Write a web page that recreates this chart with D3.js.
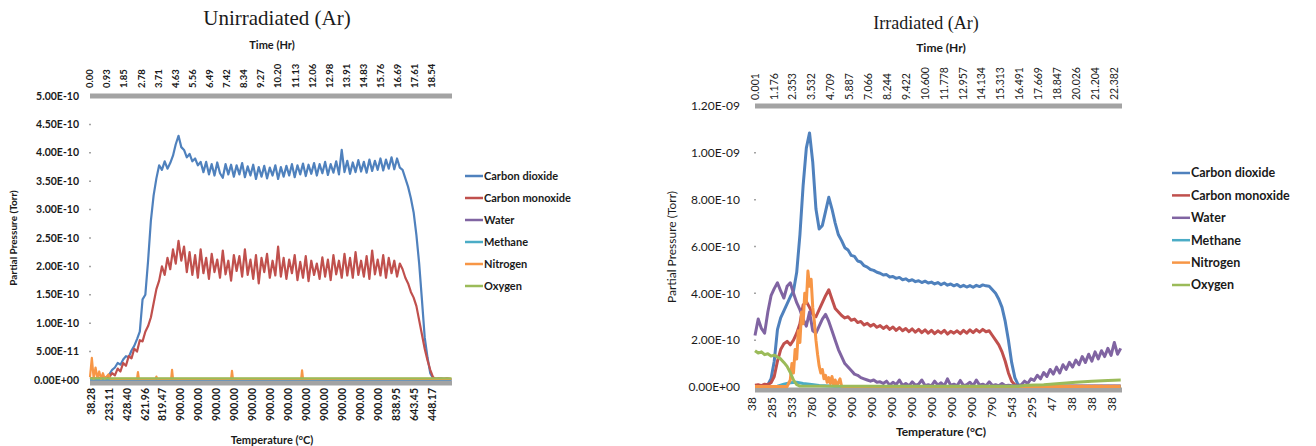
<!DOCTYPE html>
<html>
<head>
<meta charset="utf-8">
<script src="https://cdn.jsdelivr.net/npm/d3@7"></script>
<style>
  body { margin: 0; background: #fff; }
  svg text { font-family: Lato, "Open Sans", sans-serif; fill: #1a1a1a; }
</style>
</head>
<body>
<svg id="chart" width="1316" height="446"></svg>
<script>
// Series (same order in both panels)
const seriesNames = ['Carbon dioxide', 'Carbon monoxide', 'Water', 'Methane', 'Nitrogen', 'Oxygen'];
const seriesColors = ['#4f81bd', '#c0504d', '#8064a2', '#4bacc6', '#f79646', '#9bbb59'];

// ---- Left panel: Unirradiated (Ar), values in 1e-10 Torr ----
const leftStep = 0.15; // hours between readings
const leftTopLabels = ['0.00', '0.93', '1.85', '2.78', '3.71', '4.63', '5.56', '6.49', '7.42', '8.34', '9.27',
  '10.20', '11.13', '12.06', '12.98', '13.91', '14.83', '15.76', '16.69', '17.61', '18.54'];
const leftBottomLabels = ['38.28', '233.11', '428.40', '621.96', '819.47', '900.00', '900.00', '900.00', '900.00',
  '900.00', '900.00', '900.00', '900.00', '900.00', '900.00', '900.00', '900.00', '838.95', '643.45', '448.17'];
const leftYTicks = [0, 0.5, 1, 1.5, 2, 2.5, 3, 3.5, 4, 4.5, 5];

const leftCO2 = [0.02, 0.03, 0.02, 0.04, 0.03, 0.04,
  0.05, 0.1, 0.18, 0.22, 0.3, 0.27, 0.36, 0.42, 0.4, 0.52, 0.6, 0.72, 0.85, 1.42, 1.5, 2.1, 2.8, 3.25, 3.55,
  3.78, 3.7, 3.85, 3.72, 3.82, 3.95, 4.15, 4.3, 4.1, 4.05, 3.92, 3.98, 3.85, 3.9, 3.78, 3.84,
  3.66, 3.84, 3.62, 3.8, 3.6, 3.83, 3.64, 3.56, 3.8, 3.62,
  3.79, 3.58, 3.78, 3.62, 3.82, 3.57, 3.76, 3.6, 3.79, 3.54,
  3.75, 3.58, 3.77, 3.55, 3.74, 3.6, 3.78, 3.54, 3.75, 3.58,
  3.77, 3.6, 3.8, 3.57, 3.78, 3.62, 3.81, 3.59, 3.79, 3.63,
  3.82, 3.6, 3.8, 3.64, 3.84, 3.61, 3.8, 3.65, 3.85, 3.62,
  4.05, 3.66, 3.86, 3.63, 3.83, 3.66, 3.87, 3.67, 3.84, 3.65,
  3.88, 3.68, 3.86, 3.7, 3.9, 3.69, 3.88, 3.72, 3.92, 3.71, 3.9, 3.74,
  3.7, 3.55, 3.4, 3.2, 2.95, 2.55, 2.05, 1.41, 0.75, 0.4, 0.12, 0.03,
  0.02, 0.02, 0.03, 0.02, 0.02, 0.02];
const leftCO = [0.02, 0.03, 0.02, 0.04, 0.02, 0.03, 0.04,
  0.05, 0.12, 0.08, 0.2, 0.15, 0.3, 0.25, 0.42, 0.38, 0.55, 0.5, 0.7, 0.68, 0.85, 0.95, 1.1, 1.35, 1.6,
  1.75, 2.0, 1.85, 2.15, 1.95, 2.3, 2.05, 2.45, 2.1, 2.35, 1.9,
  2.25, 1.85, 2.2, 1.8, 2.3, 1.88, 2.15, 1.78, 2.22, 1.9,
  2.12, 1.8, 2.28, 1.86, 2.1, 1.75, 2.2, 1.92, 2.18, 1.82,
  2.3, 1.85, 2.12, 1.78, 2.2, 1.7, 2.15, 1.9, 2.22, 1.8,
  2.1, 1.84, 2.35, 1.82, 2.15, 1.78, 2.12, 1.88, 2.2, 1.76,
  2.08, 1.8, 2.18, 1.74, 2.1, 1.85, 2.05, 1.78, 2.16, 1.82,
  2.12, 1.76, 2.2, 1.86, 2.1, 1.8, 2.22, 1.84, 2.15, 1.8,
  2.25, 1.85, 2.1, 1.82, 2.18, 1.78, 2.28, 1.86, 2.12, 1.84,
  2.2, 1.8, 2.15, 1.88, 2.1, 1.82, 2.05,
  1.95, 1.8, 1.7, 1.55, 1.45, 1.3, 1.05, 0.8, 0.55, 0.35, 0.18, 0.05,
  0.02, 0.03, 0.02, 0.02, 0.03, 0.02];
// sparse readings as [hour, value]
const leftH2O = [[0, 0.005], [19.6, 0.005]];
const leftCH4 = [[0, 0.01], [19.6, 0.01]];
const leftN2 = [[0, 0.05], [0.1, 0.39], [0.2, 0.02], [0.3, 0.22], [0.4, 0.04], [0.5, 0.15], [0.6, 0.02], [0.7, 0.12],
  [0.8, 0.02], [1.0, 0.1], [1.1, 0.02], [2.55, 0.02], [2.6, 0.14], [2.65, 0.02], [3.55, 0.02], [3.6, 0.06], [3.65, 0.02],
  [4.4, 0.02], [4.45, 0.18], [4.5, 0.02], [7.65, 0.02], [7.7, 0.16], [7.75, 0.02], [11.45, 0.02], [11.5, 0.17],
  [11.55, 0.02], [19.6, 0.02]];
const leftO2 = [[0, 0.03], [19.6, 0.03]];

// ---- Right panel: Irradiated (Ar), values in 1e-10 Torr ----
const rightStep = 0.2;
const rightTopLabels = ['0.001', '1.176', '2.353', '3.532', '4.709', '5.887', '7.066', '8.244', '9.422', '10.600',
  '11.778', '12.957', '14.134', '15.313', '16.491', '17.669', '18.847', '20.026', '21.204', '22.382'];
const rightBottomLabels = ['38', '285', '533', '780', '900', '900', '900', '900', '900', '900', '900', '900',
  '790', '543', '295', '47', '38', '38', '38'];
const rightYTicks = [0, 2, 4, 6, 8, 10, 12];

const rightCO2 = [0.05, 0.06, 0.05, 0.08, 0.1,
  0.35, 1.1, 2.45, 2.95, 3.25, 3.55, 3.85, 4.1,
  4.9, 6.5, 8.6, 10.2, 10.85, 9.6, 7.6, 6.75, 6.9, 7.5, 8.1, 7.6, 7.0,
  6.5, 6.25, 5.95, 5.85, 5.62, 5.58, 5.38, 5.34, 5.18, 5.12, 5.02, 4.98, 4.9, 4.86, 4.78, 4.8, 4.7, 4.72, 4.64, 4.68,
  4.58, 4.62, 4.53, 4.58, 4.5, 4.54, 4.46, 4.52, 4.44, 4.48, 4.4, 4.46, 4.37, 4.44, 4.35, 4.4, 4.32, 4.38, 4.28, 4.34,
  4.27, 4.33, 4.26, 4.34, 4.29, 4.36, 4.32, 4.3,
  4.15, 4.0, 3.75, 3.4, 2.8, 2.0, 1.05, 0.4, 0.1,
  0.04, 0.03, 0.04, 0.03, 0.04, 0.03, 0.04, 0.03, 0.04, 0.03, 0.04, 0.03, 0.04, 0.03, 0.04, 0.03,
  0.04, 0.03, 0.04, 0.03, 0.04, 0.03, 0.04, 0.03, 0.04, 0.03, 0.04, 0.03, 0.04, 0.03, 0.04, 0.03];
const rightCO = [0.08, 0.1, 0.06, 0.12, 0.1, 0.18,
  0.45, 1.1, 1.6, 1.85, 1.95, 1.8, 2.0, 2.3, 2.7, 3.5, 3.65, 3.4, 3.1, 3.0, 3.3, 3.6, 3.9, 4.15,
  3.75, 3.35, 3.2, 3.05, 2.95, 3.0, 2.85, 2.9, 2.75, 2.8, 2.65, 2.72, 2.6, 2.68,
  2.55, 2.62, 2.5, 2.6, 2.46, 2.56, 2.42, 2.54, 2.4, 2.5, 2.36, 2.48, 2.34, 2.46, 2.32, 2.44, 2.3, 2.42, 2.28, 2.4,
  2.3, 2.42, 2.26, 2.38, 2.3, 2.4, 2.28, 2.42, 2.3, 2.44, 2.32, 2.45, 2.34, 2.46, 2.36, 2.4,
  2.2, 2.0, 1.8, 1.5, 1.1, 0.6, 0.25, 0.1, 0.05,
  0.03, 0.04, 0.03, 0.04, 0.03, 0.04, 0.03, 0.04, 0.03, 0.04, 0.03, 0.04, 0.03, 0.04, 0.03, 0.04,
  0.03, 0.04, 0.03, 0.04, 0.03, 0.04, 0.03, 0.04, 0.03, 0.04, 0.03, 0.04, 0.03, 0.04, 0.03, 0.04];
const rightH2O = [2.2, 2.9, 2.5, 2.3, 3.2, 3.9, 4.2, 4.45, 4.1, 3.8, 4.3, 4.45, 4.0, 3.6, 3.3, 2.9, 2.6,
  3.2, 2.4, 2.3, 2.6, 2.9, 3.1, 2.8, 2.4, 2.0, 1.6, 1.3, 1.0, 0.85, 0.7, 0.55, 0.5, 0.4, 0.35, 0.3, 0.25,
  0.3, 0.2, 0.22, 0.15,
  0.25, 0.08, 0.2, 0.1, 0.3, 0.06, 0.15, 0.05, 0.22, 0.08, 0.12, 0.3, 0.06, 0.1, 0.05, 0.25, 0.08, 0.18, 0.05, 0.35,
  0.07, 0.12, 0.05, 0.28, 0.06, 0.1, 0.2, 0.05, 0.3, 0.08, 0.12, 0.05, 0.22, 0.06, 0.1, 0.05, 0.15, 0.05, 0.08, 0.05,
  0.06, 0.05,
  0.1, 0.25, 0.15, 0.35, 0.28, 0.5, 0.35, 0.62, 0.45, 0.75, 0.55, 0.85, 0.6, 0.95, 0.75, 1.05, 0.85, 1.15, 0.95, 1.3,
  1.05, 1.4, 1.1, 1.5, 1.2, 1.55, 1.3, 1.65, 1.35, 1.9, 1.4, 1.65];
const rightCH4 = [[0, 0.02], [1.4, 0.03], [1.8, 0.12], [2.2, 0.18], [2.6, 0.2], [3.0, 0.15], [3.4, 0.12], [4.0, 0.06],
  [5.0, 0.03], [22.8, 0.02]];
const rightN2 = [[0, 0.02], [2.0, 0.02], [2.2, 0.3], [2.3, 1.0], [2.4, 0.6], [2.5, 1.6], [2.6, 1.2], [2.7, 2.4],
  [2.8, 1.9], [2.9, 3.2], [3.0, 2.7], [3.1, 4.0], [3.2, 3.6], [3.3, 4.95], [3.4, 4.3], [3.5, 4.6], [3.6, 3.4],
  [3.7, 2.8], [3.8, 2.0], [3.9, 1.4], [4.0, 0.9], [4.1, 0.6], [4.2, 0.75], [4.3, 0.35], [4.4, 0.5], [4.5, 0.2],
  [4.6, 0.4], [4.7, 0.15], [4.8, 0.45], [4.9, 0.1], [5.0, 0.3], [5.1, 0.05], [5.3, 0.35], [5.4, 0.03], [5.6, 0.02],
  [22.8, 0.02]];
const rightO2 = [[0, 1.55], [0.2, 1.45], [0.4, 1.5], [0.6, 1.38], [0.8, 1.42], [1.0, 1.32], [1.2, 1.36], [1.4, 1.28],
  [1.6, 1.2], [1.8, 1.05], [2.0, 0.88], [2.2, 0.62], [2.4, 0.3], [2.6, 0.1], [2.8, 0.04], [16.4, 0.03], [17.0, 0.08],
  [18.0, 0.1], [19.0, 0.15], [20.0, 0.2], [21.0, 0.25], [22.0, 0.28], [22.8, 0.3]];

// Helpers
const svg = d3.select('#chart');
const toPairs = (values, step) => values.map((v, i) => [i * step, v]);

function sci(v) {
  if (v === 0) return '0.00E+00';
  const [m, e] = (v * 1e-10).toExponential(2).split('e');
  const n = +e;
  return m + 'E' + (n < 0 ? '-' : '+') + String(Math.abs(n)).padStart(2, '0');
}

function drawPanel(p) {
  const g = svg.append('g');
  const x = d3.scaleLinear().domain([0, p.tMax]).range([p.x0, p.x1]);
  const y = d3.scaleLinear().domain([0, p.yMax]).range([p.yBottom, p.yTop]);
  const xCat = d3.scalePoint().domain(d3.range(p.bottomLabels.length)).range(p.catRange);

  // Titles
  g.append('text')
    .attr('x', p.titleX).attr('y', p.titleY).attr('dy', '0.35em')
    .attr('text-anchor', 'middle')
    .style('font-family', '"Liberation Serif", "DejaVu Serif", serif')
    .style('font-size', p.titleSize + 'px')
    .text(p.title);
  g.append('text')
    .attr('x', p.timeX).attr('y', p.timeY).attr('dy', '0.35em')
    .attr('text-anchor', 'middle')
    .style('font-weight', 'bold').style('font-size', p.axisTitleSize + 'px')
    .text('Time (Hr)');
  g.append('text')
    .attr('x', p.tempX).attr('y', p.tempY).attr('dy', '0.35em')
    .attr('text-anchor', 'middle')
    .style('font-weight', 'bold').style('font-size', p.axisTitleSize + 'px')
    .text('Temperature (°C)');
  g.append('text')
    .attr('transform', `translate(${p.yTitleX},${p.yTitleY}) rotate(-90)`)
    .attr('dy', '0.35em')
    .attr('text-anchor', 'middle')
    .style('font-weight', p.yTitleWeight).style('font-size', p.yTitleSize + 'px')
    .text('Partial Pressure (Torr)');

  // Gray axis bars (top = secondary time axis, bottom = temperature axis)
  g.append('line')
    .attr('x1', p.x0).attr('x2', p.x1)
    .attr('y1', y(p.yMax)).attr('y2', y(p.yMax))
    .attr('stroke', '#a3a3a3').attr('stroke-width', 5);
  g.append('line')
    .attr('x1', p.x0).attr('x2', p.x1)
    .attr('y1', y(0) + 3).attr('y2', y(0) + 3)
    .attr('stroke', '#a3a3a3').attr('stroke-width', 5);

  // Y axis: small tick dashes + labels
  g.selectAll('.ytick')
    .data(p.yTicks.filter(d => d !== 0 && d !== p.yMax))
    .enter().append('line')
    .attr('x1', p.x0 - 1).attr('x2', p.x0 + 1)
    .attr('y1', d => y(d)).attr('y2', d => y(d))
    .attr('stroke', '#a3a3a3').attr('stroke-width', 1.5);
  g.selectAll('.ylab')
    .data(p.yTicks)
    .enter().append('text')
    .attr('x', p.yLabelX).attr('y', d => y(d)).attr('dy', '0.35em')
    .attr('text-anchor', 'end')
    .style('font-weight', p.tickWeight).style('font-size', p.yTickSize + 'px')
    .text(sci);

  // Top (time) labels
  g.selectAll('.toplab')
    .data(p.topLabels)
    .enter().append('text')
    .attr('transform', d => `translate(${x(+d)},${p.topLabelY}) rotate(-90)`)
    .attr('dy', '0.35em')
    .attr('text-anchor', 'start')
    .style('font-weight', p.tickWeight).style('font-size', p.topTickSize + 'px')
    .text(d => d);

  // Bottom (temperature) labels
  g.selectAll('.botlab')
    .data(p.bottomLabels)
    .enter().append('text')
    .attr('transform', (d, i) => `translate(${xCat(i)},${p.bottomLabelY}) rotate(-90)`)
    .attr('dy', '0.35em')
    .attr('text-anchor', 'end')
    .style('font-weight', p.tickWeight).style('font-size', p.bottomTickSize + 'px')
    .text(d => d);

  // Series lines
  const line = d3.line().x(d => x(d[0])).y(d => y(d[1]));
  p.series.forEach((s, i) => {
    g.append('path')
      .datum(s)
      .attr('fill', 'none')
      .attr('stroke', seriesColors[i])
      .attr('stroke-width', p.lineWidth)
      .attr('stroke-linejoin', 'round')
      .attr('d', line);
  });

  // Legend
  seriesNames.forEach((name, i) => {
    const ly = p.legendY + i * p.legendGap;
    g.append('line')
      .attr('x1', p.legendX).attr('x2', p.legendX + 18)
      .attr('y1', ly).attr('y2', ly)
      .attr('stroke', seriesColors[i]).attr('stroke-width', 2.5);
    g.append('text')
      .attr('x', p.legendX + 19).attr('y', ly).attr('dy', '0.35em')
      .style('font-weight', 'bold').style('font-size', p.legendSize + 'px')
      .text(name);
  });
}

drawPanel({
  title: 'Unirradiated (Ar)', titleX: 277, titleY: 18, titleSize: 21,
  timeX: 272, timeY: 45, tempX: 272, tempY: 440, axisTitleSize: 11,
  yTitleX: 13, yTitleY: 238, yTitleSize: 10, yTitleWeight: 'bold',
  x0: 90, x1: 452, tMax: 19.63, yTop: 96, yBottom: 380, yMax: 5,
  yTicks: leftYTicks, yLabelX: 79, yTickSize: 10.5, tickWeight: 'bold',
  topLabels: leftTopLabels, topLabelY: 88, topTickSize: 9.5,
  bottomLabels: leftBottomLabels, catRange: [91, 432], bottomLabelY: 388, bottomTickSize: 10.5,
  lineWidth: 2.2,
  series: [toPairs(leftCO2, leftStep), toPairs(leftCO, leftStep), leftH2O, leftCH4, leftN2, leftO2],
  legendX: 465, legendY: 176, legendGap: 22, legendSize: 11
});

drawPanel({
  title: 'Irradiated (Ar)', titleX: 926, titleY: 23, titleSize: 18,
  timeX: 941, timeY: 48, tempX: 941, tempY: 432, axisTitleSize: 12,
  yTitleX: 672, yTitleY: 247, yTitleSize: 12, yTitleWeight: 'normal',
  x0: 755, x1: 1122, tMax: 22.88, yTop: 106, yBottom: 387, yMax: 12,
  yTicks: rightYTicks, yLabelX: 740, yTickSize: 12, tickWeight: 'normal',
  topLabels: rightTopLabels, topLabelY: 100, topTickSize: 10.5,
  bottomLabels: rightBottomLabels, catRange: [752, 1112], bottomLabelY: 397, bottomTickSize: 12,
  lineWidth: 3,
  series: [toPairs(rightCO2, rightStep), toPairs(rightCO, rightStep), toPairs(rightH2O, rightStep), rightCH4, rightN2, rightO2],
  legendX: 1172, legendY: 173, legendGap: 22.4, legendSize: 12.5
});
</script>
</body>
</html>
